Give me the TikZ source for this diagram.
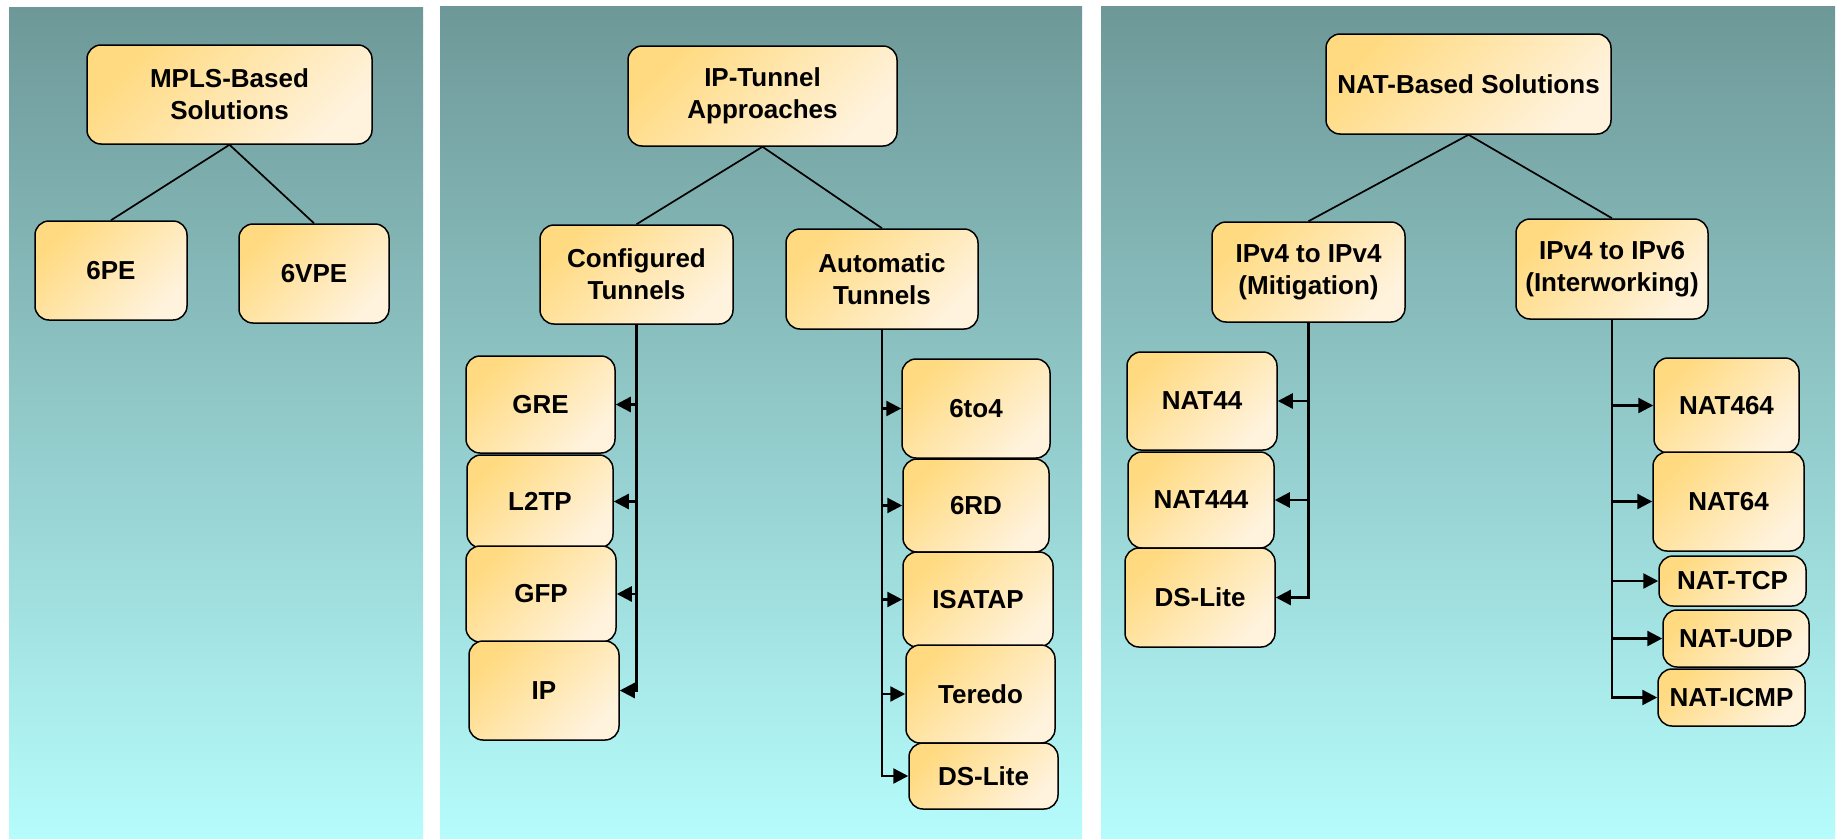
\documentclass[tikz,border=0pt]{standalone}
\usepackage{fontspec}
\setmainfont{Liberation Sans}
\usetikzlibrary{arrows.meta}
\definecolor{bgtop}{RGB}{110,152,152}
\definecolor{bgbot}{RGB}{182,252,252}
\definecolor{boxA}{RGB}{255,218,128}
\definecolor{boxB}{RGB}{255,243,222}
\tikzset{
  box/.style={draw=black, line width=1.5pt, rounded corners=14pt,
    top color=boxA, bottom color=boxB, shading angle=45,
    inner sep=0pt, align=center, text=black,
    font=\fontsize{26}{32}\selectfont\bfseries},
  bx/.style 2 args={box, minimum width=#1pt, minimum height=#2pt},
  panel/.style={top color=bgtop, bottom color=bgbot},
  link/.style={draw=black, line width=1.7pt},
  arr/.style={draw=black, line width=2.4pt, line join=miter,
    -{Triangle[length=15pt,width=15pt]}}
}
\begin{document}
\begin{tikzpicture}[x=1pt,y=-1pt]
\useasboundingbox (0,0) rectangle (1839,838);
\fill[white] (0,0) rectangle (1839,838);
% panels
\shade[panel] (9,7) rectangle (423,838);
\shade[panel] (440,6) rectangle (1082,838);
\shade[panel] (1101,6) rectangle (1835,838);

% ---- panel 1
\node[bx={285}{99}] (mpls) at (229.5,94.5) {MPLS-Based\\Solutions};
\node[bx={152}{99}] (sixpe) at (111,270.5) {6PE};
\node[bx={150}{99}] (sixvpe) at (314,273.5) {6VPE};
\draw[link] (mpls.south) -- (sixpe.north);
\draw[link] (mpls.south) -- (sixvpe.north);

% ---- panel 2
\node[bx={269}{100}] (iptun) at (762.5,96) {IP-Tunnel\\Approaches};
\node[bx={193}{99}] (conf) at (636.5,274.5) {Configured\\Tunnels};
\node[bx={192}{100}] (auto) at (882,279) {Automatic\\Tunnels};
\draw[link] (iptun.south) -- (conf.north);
\draw[link] (iptun.south) -- (auto.north);

\node[bx={149}{97}] (gre) at (540.5,404.5) {GRE};
\node[bx={146}{93}] (ltwotp) at (540,501.5) {L2TP};
\node[bx={150}{96}] (gfp) at (541,594) {GFP};
\node[bx={150}{99}] (ip) at (544,690.5) {IP};

\node[bx={148}{99}] (sixtofour) at (976,408.5) {6to4};
\node[bx={146}{93}] (sixrd) at (976,505.5) {6RD};
\node[bx={150}{95}] (isatap) at (978,599.5) {ISATAP};
\node[bx={149}{98}] (teredo) at (980.5,694) {Teredo};
\node[bx={149}{66}] (dslite) at (983.5,776) {DS-Lite};

\draw[arr] (conf.south) |- (gre.east);
\draw[arr] (conf.south) |- (ltwotp.east);
\draw[arr] (conf.south) |- (gfp.east);
\draw[arr] (conf.south) |- (ip.east);

\draw[arr] (auto.south) |- (sixtofour.west);
\draw[arr] (auto.south) |- (sixrd.west);
\draw[arr] (auto.south) |- (isatap.west);
\draw[arr] (auto.south) |- (teredo.west);
\draw[arr] (auto.south) |- (dslite.west);

% ---- panel 3
\node[bx={285}{100}] (nat) at (1468.5,84) {NAT-Based Solutions};
\node[bx={193}{100}] (mit) at (1308.5,272) {IPv4 to IPv4\\(Mitigation)};
\node[bx={192}{100}] (inter) at (1612,269) {IPv4 to IPv6\\(Interworking)};
\draw[link] (nat.south) -- (mit.north);
\draw[link] (nat.south) -- (inter.north);

\node[bx={150}{98}] (natff) at (1202,401) {NAT44};
\node[bx={146}{96}] (natfff) at (1201,500) {NAT444};
\node[bx={150}{99}] (dslitetwo) at (1200,597.5) {DS-Lite};

\node[bx={145}{95}] (natfsf) at (1726.5,405.5) {NAT464};
\node[bx={151}{99}] (natsf) at (1728.5,501.5) {NAT64};
\node[bx={147}{50}] (nattcp) at (1732.5,581) {NAT-TCP};
\node[bx={146}{57}] (natudp) at (1736,638.5) {NAT-UDP};
\node[bx={147}{57}] (naticmp) at (1731.5,697.5) {NAT-ICMP};

\draw[arr] (mit.south) |- (natff.east);
\draw[arr] (mit.south) |- (natfff.east);
\draw[arr] (mit.south) |- (dslitetwo.east);

\draw[arr] (inter.south) |- (natfsf.west);
\draw[arr] (inter.south) |- (natsf.west);
\draw[arr] (inter.south) |- (nattcp.west);
\draw[arr] (inter.south) |- (natudp.west);
\draw[arr] (inter.south) |- (naticmp.west);
\end{tikzpicture}
\end{document}
